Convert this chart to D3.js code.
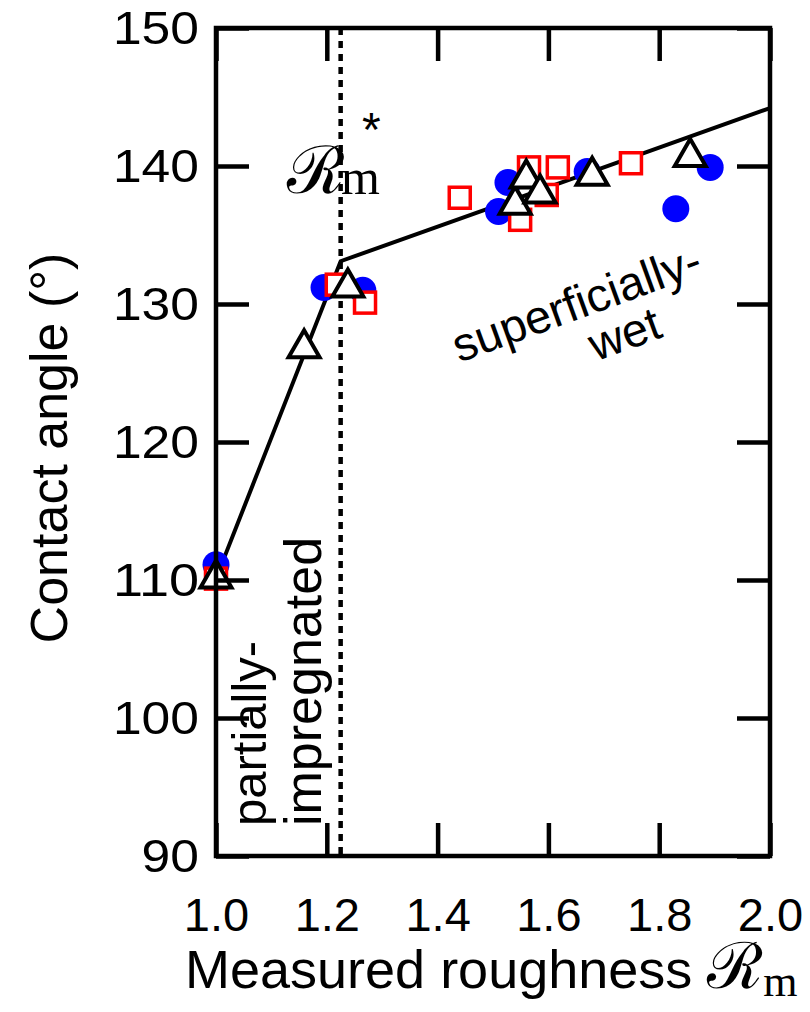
<html>
<head>
<style>
  body { margin: 0; background: #fff; }
  text { font-family: "Liberation Sans", Arial, sans-serif; fill: #000; }
</style>
</head>
<body>
<svg id="chart" width="810" height="1012"></svg>
<script src="https://cdn.jsdelivr.net/npm/d3@7/dist/d3.min.js"></script>
<script>
// values
var circlesX = [1.0, 1.195, 1.265, 1.51, 1.527, 1.67, 1.83, 1.892];
var circlesY = [111.1, 131.2, 131.0, 136.7, 138.8, 139.6, 136.9, 139.9];

var squaresX = [1.0, 1.218, 1.269, 1.44, 1.549, 1.565, 1.597, 1.617, 1.749];
var squaresY = [110.1, 131.4, 130.1, 137.7, 136.1, 139.9, 137.9, 139.9, 140.2];

var trianglesX = [1.0, 1.159, 1.238, 1.54, 1.56, 1.585, 1.679, 1.856];
var trianglesY = [110.1, 126.8, 131.2, 137.2, 139.1, 138.0, 139.3, 140.65];

var fitX = [1.0, 1.225, 2.0];
var fitY = [110.1, 133.1, 144.2];
var criticalR = 1.225;

var xTicks = [1.0, 1.2, 1.4, 1.6, 1.8, 2.0];
var yTicks = [90, 100, 110, 120, 130, 140, 150];

var plotL = 216, plotR = 770, plotT = 28, plotB = 856;

var svg = d3.select("svg#chart");

var x = d3.scaleLinear().domain([1, 2]).range([plotL, plotR]);
var y = d3.scaleLinear().domain([90, 150]).range([plotB, plotT]);

function zip(xs, ys) { return xs.map(function(v, i) { return [v, ys[i]]; }); }

// fitted line and dotted critical roughness
svg.append("path")
    .datum(zip(fitX, fitY))
    .attr("fill", "none")
    .attr("stroke", "#000")
    .attr("stroke-width", 4)
    .attr("d", d3.line().x(function(d) { return x(d[0]); }).y(function(d) { return y(d[1]); }));

svg.append("line")
    .attr("x1", x(criticalR)).attr("x2", x(criticalR))
    .attr("y1", y(150)).attr("y2", y(90))
    .attr("stroke", "#000")
    .attr("stroke-width", 4.5)
    .attr("stroke-dasharray", "7,6");

// markers
svg.append("g").selectAll("circle")
    .data(zip(circlesX, circlesY))
    .enter().append("circle")
    .attr("cx", function(d) { return x(d[0]); })
    .attr("cy", function(d) { return y(d[1]); })
    .attr("r", 13.5)
    .attr("fill", "#0000ff");

svg.append("g").selectAll("rect")
    .data(zip(squaresX, squaresY))
    .enter().append("rect")
    .attr("x", function(d) { return x(d[0]) - 10.5; })
    .attr("y", function(d) { return y(d[1]) - 10.5; })
    .attr("width", 21).attr("height", 21)
    .attr("fill", "#fff")
    .attr("stroke", "#ff0000")
    .attr("stroke-width", 3.5);

svg.append("g").selectAll("path")
    .data(zip(trianglesX, trianglesY))
    .enter().append("path")
    .attr("transform", function(d) { return "translate(" + x(d[0]) + "," + y(d[1]) + ")"; })
    .attr("d", "M0,-18L15.5,9L-15.5,9Z")
    .attr("fill", "#fff")
    .attr("stroke", "#000")
    .attr("stroke-width", 4)
    .attr("stroke-linejoin", "miter");

// frame and inward ticks
var tickLen = 33;
function styleAxis(g) {
    g.select(".domain").remove();
    g.selectAll(".tick line").attr("stroke", "#000").attr("stroke-width", 4.5);
    g.selectAll("text").style("font-family", "Liberation Sans, Arial, sans-serif").style("font-size", "47px").attr("fill", "#000");
}

svg.append("g")
    .attr("transform", "translate(0," + plotB + ")")
    .call(d3.axisBottom(x).tickValues(xTicks).tickSize(-tickLen).tickPadding(42).tickFormat(d3.format(".1f")))
    .call(styleAxis);

svg.append("g")
    .attr("transform", "translate(0," + plotT + ")")
    .call(d3.axisTop(x).tickValues(xTicks).tickSize(-tickLen).tickFormat(""))
    .call(styleAxis);

// y labels in the reference are a little wider than plain Arial
svg.append("g")
    .attr("transform", "translate(" + plotL + ",0)")
    .call(d3.axisLeft(y).tickValues(yTicks).tickSize(-tickLen).tickPadding(17))
    .call(styleAxis)
    .selectAll("text")
    .attr("textLength", function(d) { return String(d).length * 28.7; })
    .attr("lengthAdjust", "spacingAndGlyphs");

svg.append("g")
    .attr("transform", "translate(" + plotR + ",0)")
    .call(d3.axisRight(y).tickValues(yTicks).tickSize(-tickLen).tickFormat(""))
    .call(styleAxis);

svg.append("rect")
    .attr("x", plotL).attr("y", plotT)
    .attr("width", plotR - plotL).attr("height", plotB - plotT)
    .attr("fill", "none")
    .attr("stroke", "#000")
    .attr("stroke-width", 4.5);

// axis titles
svg.append("text")
    .attr("transform", "translate(67," + 448 + ") rotate(-90)")
    .attr("text-anchor", "middle")
    .style("font-size", "52px")
    .text("Contact angle (°)");

var xt = svg.append("text")
    .attr("x", 185).attr("y", 988)
    .style("font-size", "54px");
xt.append("tspan").text("Measured roughness ");
xt.append("tspan").style("font-family", "DejaVu Serif, serif").style("font-size", "64px").text("ℛ");
xt.append("tspan").style("font-family", "Liberation Serif, serif").style("font-size", "44px").attr("dy", 8).text("m");

// R*_m label
var rl = svg.append("text")
    .attr("x", 287).attr("y", 193)
    .style("font-family", "DejaVu Serif, serif")
    .style("font-size", "66px");
rl.append("tspan").text("ℛ");
rl.append("tspan").style("font-family", "Liberation Serif, serif").style("font-size", "50px").attr("x", 341).attr("y", 194).text("m");
rl.append("tspan").style("font-family", "Liberation Sans, sans-serif").style("font-size", "48px").attr("x", 362).attr("y", 146).text("*");

// regime annotations
svg.append("text")
    .attr("transform", "translate(266,826) rotate(-90)")
    .style("font-size", "49px")
    .text("partially-");
svg.append("text")
    .attr("transform", "translate(321,826) rotate(-90)")
    .style("font-size", "52px")
    .text("impregnated");

svg.append("text")
    .attr("transform", "translate(582,318) rotate(-20)")
    .attr("text-anchor", "middle")
    .style("font-size", "47px")
    .text("superficially-");
svg.append("text")
    .attr("transform", "translate(630,349) rotate(-20)")
    .attr("text-anchor", "middle")
    .style("font-size", "47px")
    .text("wet");
</script>
</body>
</html>
